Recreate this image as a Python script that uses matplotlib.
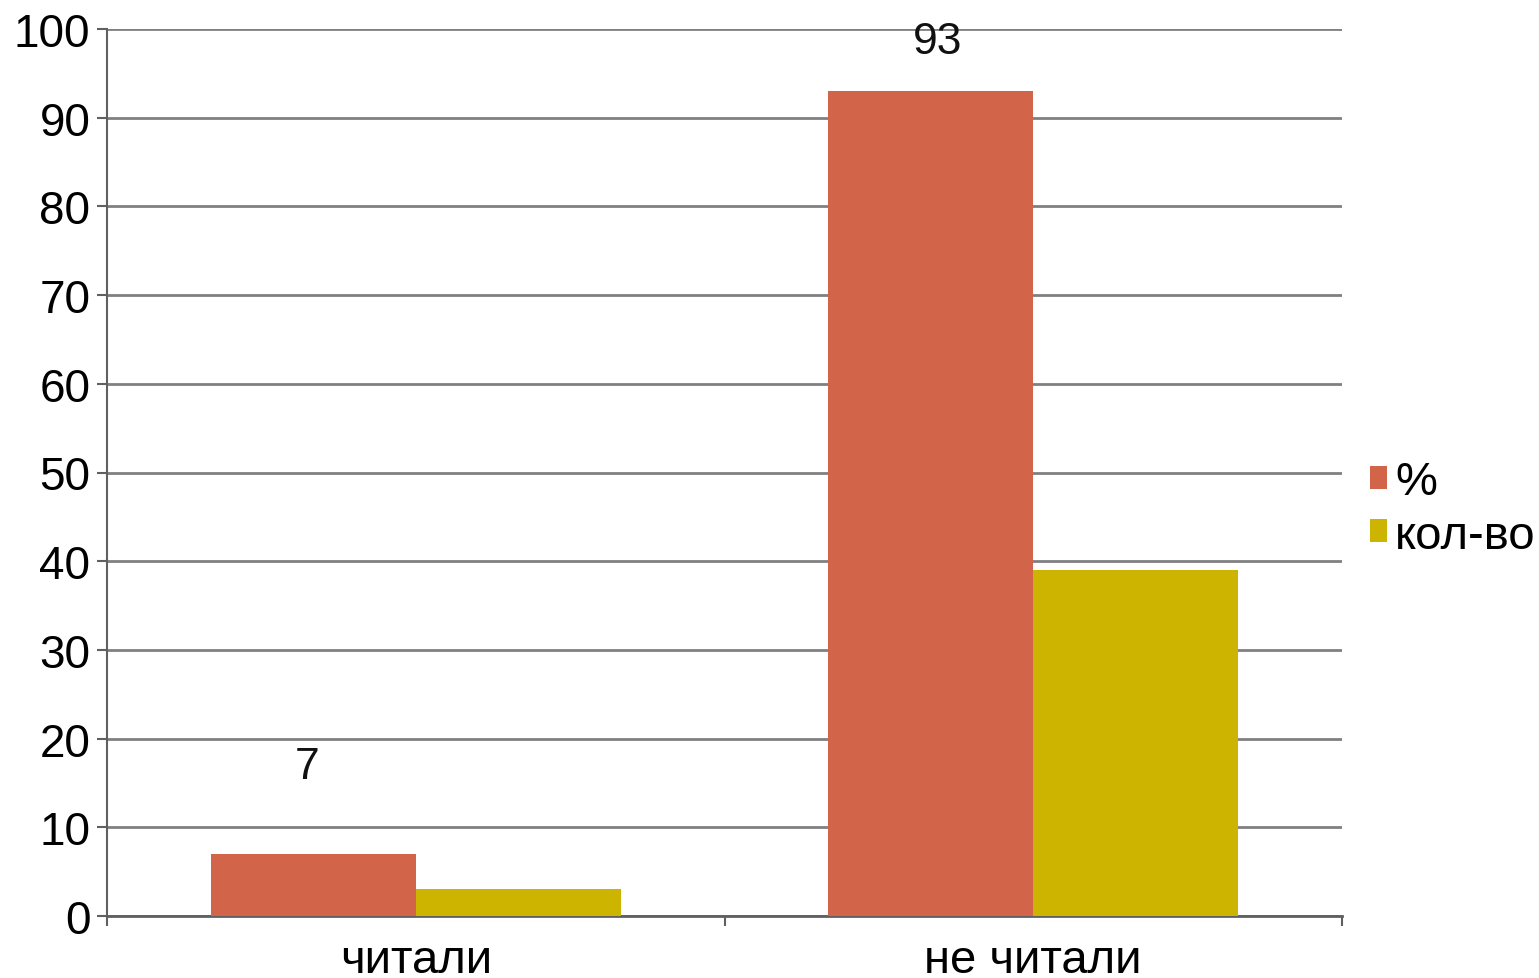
import numpy as np
import matplotlib.pyplot as plt

# data
categories = ["читали", "не читали"]
series_names = ["%", "кол-во"]
percent = [7, 93]
count = [3, 39]
colors = ["#D2644A", "#CDB400"]

plt.rcParams['font.family'] = ['Liberation Sans', 'DejaVu Sans']

fig = plt.figure(figsize=(15.39, 9.79), dpi=100)
ax = fig.add_axes([107 / 1539, 1 - 917 / 979, (1342 - 107) / 1539, (917 - 30) / 979])

x = np.arange(len(categories)) + 0.5
w = 0.332
b1 = ax.bar(x - w / 2, percent, w, color=colors[0], label=series_names[0], zorder=3)
b2 = ax.bar(x + w / 2, count, w, color=colors[1], label=series_names[1], zorder=3)

# value labels only on the first series
for rect, v, off in zip(b1, percent, [(-6, 87), (7, 50)]):
    ax.annotate(str(v), (rect.get_x() + rect.get_width() / 2, v),
                xytext=off, textcoords="offset pixels",
                ha="center", va="center", fontsize=32, color="#111111")

ax.set_xlim(0, 2)
ax.set_ylim(0, 100)
ax.set_yticks(range(0, 101, 10))
ax.yaxis.grid(True, color="#808080", linewidth=2, zorder=0)
ax.set_axisbelow(True)

ax.set_xticks([0, 1, 2])
ax.set_xticklabels([])
ax.set_xticks(x, minor=True)
ax.set_xticklabels(categories, minor=True)
ax.tick_params(axis="x", which="minor", length=0, pad=16, labelsize=34)
ax.tick_params(axis="x", which="major", length=7, width=1.5, color="#606060", direction="out")
ax.tick_params(axis="y", length=7, width=1.5, color="#606060", labelsize=33, pad=5)

for s in ["top", "right"]:
    ax.spines[s].set_visible(False)
ax.spines["left"].set_color("#606060")
ax.spines["bottom"].set_color("#606060")
ax.spines["left"].set_linewidth(1.5)
ax.spines["bottom"].set_linewidth(2)

ax.legend(loc="center left", bbox_to_anchor=(1.0, 0.459), frameon=False,
          fontsize=34, handlelength=0.36, handleheight=0.36, handletextpad=0.17,
          labelspacing=0.2, borderaxespad=0.2, borderpad=0.4)

fig.savefig("out.png", dpi=100)
